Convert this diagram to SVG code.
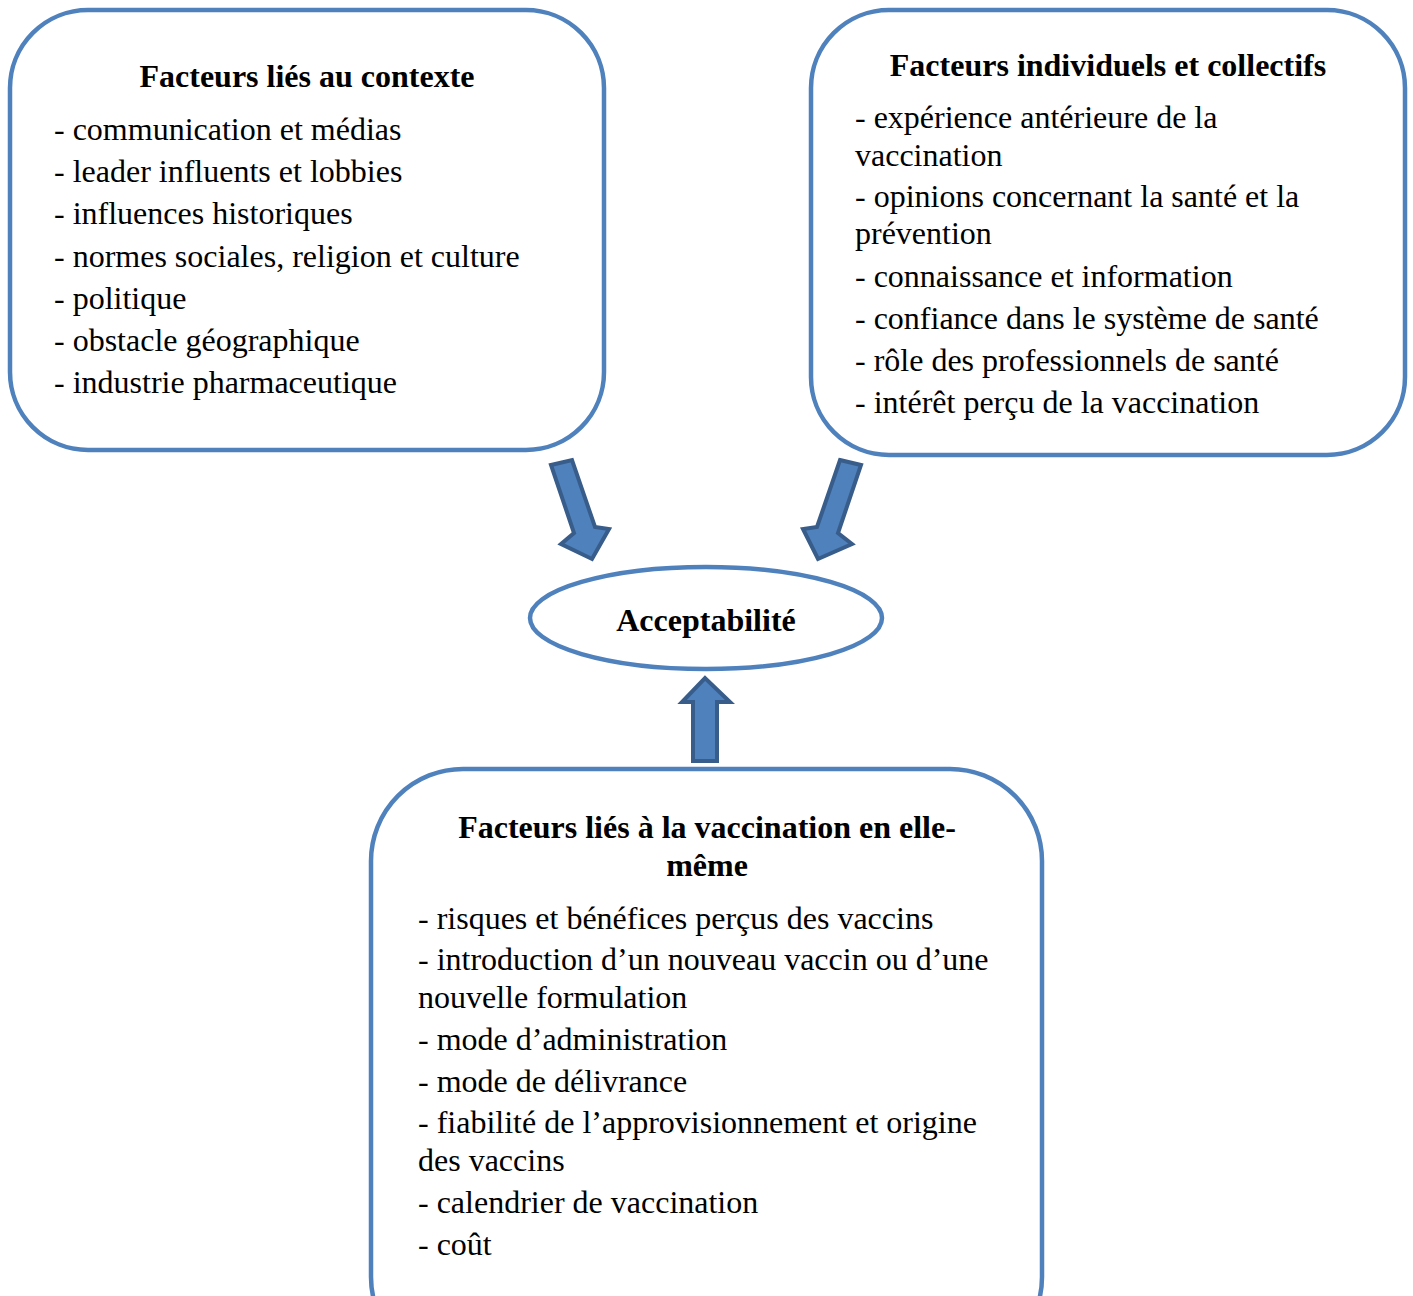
<svg xmlns="http://www.w3.org/2000/svg" width="1413" height="1296" viewBox="0 0 1413 1296">
<style>
.box{fill:#fff;stroke:#4F81BD;stroke-width:4.5}
.arr{fill:#4F81BD;stroke:#385D8A;stroke-width:4;stroke-linejoin:miter}
text{font-family:"Liberation Serif","Times New Roman",serif;font-size:32px;fill:#000}
.t{font-weight:bold;text-anchor:middle}
</style>
<rect width="1413" height="1296" fill="#fff"/>
<g id="connectors">
<polygon class="arr" points="551,465 572,460 595,527 609,529 592,559 561,544 574,533"/>
<polygon class="arr" points="840,460 861,465 838,533 852,544 818,559 803,529 817,527"/>
<polygon class="arr" points="693,761 717,761 717,702 730,702 705,678 682,702 693,702"/>
</g>
<g id="n1">
<rect class="box" x="10" y="10" width="594" height="440" rx="78"/>
<text class="t" x="307" y="86.5">Facteurs liés au contexte</text>
<text x="54" y="139.5">- communication et médias</text>
<text x="54" y="181.5">- leader influents et lobbies</text>
<text x="54" y="223.5">- influences historiques</text>
<text x="54" y="266.5">- normes sociales, religion et culture</text>
<text x="54" y="308.5">- politique</text>
<text x="54" y="350.5">- obstacle géographique</text>
<text x="54" y="392.5">- industrie pharmaceutique</text>
</g>
<g id="n2">
<rect class="box" x="811" y="10" width="594" height="445" rx="78"/>
<text class="t" x="1108" y="75.5">Facteurs individuels et collectifs</text>
<text x="855" y="127.5">- expérience antérieure de la</text>
<text x="855" y="165.5">vaccination</text>
<text x="855" y="206.5">- opinions concernant la santé et la</text>
<text x="855" y="243.5">prévention</text>
<text x="855" y="286.5">- connaissance et information</text>
<text x="855" y="328.5">- confiance dans le système de santé</text>
<text x="855" y="370.5">- rôle des professionnels de santé</text>
<text x="855" y="412.5">- intérêt perçu de la vaccination</text>
</g>
<g id="n3">
<ellipse class="box" cx="706" cy="618" rx="176" ry="51"/>
<text class="t" x="706" y="631">Acceptabilité</text>
</g>
<g id="n4">
<rect class="box" x="371" y="769" width="671" height="600" rx="92"/>
<text class="t" x="707" y="837.5">Facteurs liés à la vaccination en elle-</text>
<text class="t" x="707" y="875.5">même</text>
<text x="418" y="928.5">- risques et bénéfices perçus des vaccins</text>
<text x="418" y="969.5">- introduction d’un nouveau vaccin ou d’une</text>
<text x="418" y="1007.5">nouvelle formulation</text>
<text x="418" y="1049.5">- mode d’administration</text>
<text x="418" y="1091.5">- mode de délivrance</text>
<text x="418" y="1132.5">- fiabilité de l’approvisionnement et origine</text>
<text x="418" y="1170.5">des vaccins</text>
<text x="418" y="1212.5">- calendrier de vaccination</text>
<text x="418" y="1254.5">- coût</text>
</g>
</svg>
